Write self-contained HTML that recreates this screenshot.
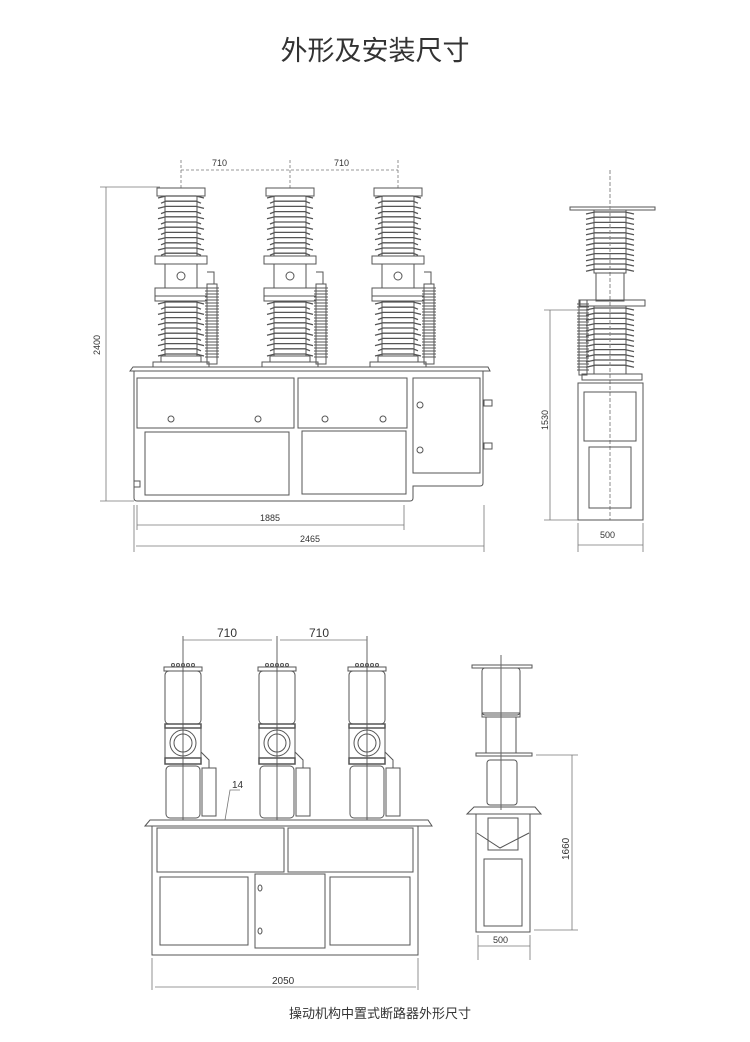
<!DOCTYPE html>
<html><head><meta charset="utf-8"><style>
html,body{margin:0;padding:0;background:#fff;}
svg{display:block}
text{font-family:"Liberation Sans","Noto Sans CJK SC",sans-serif;fill:#333}
</style></head><body>
<svg id="s" width="750" height="1042" viewBox="0 0 750 1042" xmlns="http://www.w3.org/2000/svg" stroke="#555" fill="none" stroke-width="1">
<text x="375" y="60" font-size="27" text-anchor="middle" stroke="none" fill="#222">外形及安装尺寸</text>
<text x="380" y="1018" font-size="13" text-anchor="middle" stroke="none" fill="#333">操动机构中置式断路器外形尺寸</text>

<!-- top cabinet -->
<path d="M130 371 L133 367 L488 367 L490 371 Z"/>
<path d="M134 371 V498 Q134 501 137 501 H410 Q413 501 413 498 V486 H480 Q483 486 483 483 V371"/>
<rect x="137" y="378" width="157" height="50"/>
<rect x="298" y="378" width="109" height="50"/>
<rect x="145" y="432" width="144" height="63"/>
<rect x="302" y="431" width="104" height="63"/>
<rect x="413" y="378" width="67" height="95"/>
<circle cx="171" cy="419" r="3"/><circle cx="258" cy="419" r="3"/>
<circle cx="325" cy="419" r="3"/><circle cx="383" cy="419" r="3"/>
<circle cx="420" cy="405" r="3"/><circle cx="420" cy="450" r="3"/>
<rect x="134" y="481" width="6" height="6"/>
<rect x="484" y="400" width="8" height="6"/><rect x="484" y="443" width="8" height="6"/>

<!-- top dims -->
<g stroke="#777" stroke-width="0.8">
<path d="M100 187 H160 M100 501 H134 M106 187 V501"/>
<path d="M137 505 V530 M404 505 V530 M137 525 H404"/>
<path d="M134 505 V552 M484 505 V552 M136 546 H484"/>
<path d="M181 160 V190 M290 160 V190 M398 160 V190 M181 170 H398" stroke-dasharray="3 2"/>
</g>
<g stroke="none" fill="#444" font-size="9">
<text x="212" y="166">710</text><text x="334" y="166">710</text>
<text x="260" y="521">1885</text><text x="300" y="542">2465</text>
<text transform="translate(100 355) rotate(-90)">2400</text>
</g>

<g id="poles"></g>

<!-- top right side view -->
<g id="side1">
<path d="M570 207 H655 V210 H570 Z"/>
<path d="M610 170 V520" stroke-dasharray="4 2" stroke="#888"/>
<rect x="596" y="273" width="28" height="28"/>
<path d="M580 300 H645 V306 H580 Z"/>
<rect x="582" y="374" width="60" height="6"/>
<rect x="578" y="383" width="65" height="137"/>
<rect x="584" y="392" width="52" height="49"/>
<rect x="589" y="447" width="42" height="61"/>
<g stroke="#777" stroke-width="0.8">
<path d="M544 310 H580 M544 520 H578 M550 310 V520"/>
<path d="M578 523 V552 M643 523 V552 M578 545 H643"/>
</g>
<text x="600" y="538" font-size="9" stroke="none">500</text>
<text transform="translate(548 430) rotate(-90)" font-size="9" stroke="none">1530</text>
</g>

<!-- bottom cabinet -->
<path d="M145 826 L150 820 H428 L432 826 Z"/>
<rect x="152" y="826" width="266" height="129"/>
<rect x="157" y="828" width="127" height="44"/>
<rect x="288" y="828" width="125" height="44"/>
<rect x="160" y="877" width="88" height="68"/>
<rect x="255" y="874" width="70" height="74"/>
<rect x="330" y="877" width="80" height="68"/>
<ellipse cx="260" cy="888" rx="2" ry="3"/><ellipse cx="260" cy="931" rx="2" ry="3"/>
<g stroke="#777" stroke-width="0.8">
<path d="M152 958 V990 M418 958 V990 M155 987 H416"/>
<path d="M183 640 H272 M280 640 H367"/>
<path d="M225 820 L230 790 H240"/>
</g>
<text x="232" y="788" font-size="10" stroke="none">14</text>
<text x="217" y="637" font-size="12" stroke="none">710</text>
<text x="309" y="637" font-size="12" stroke="none">710</text>
<text x="272" y="984" font-size="10" stroke="none">2050</text>

<!-- bottom side view -->
<path d="M472 665 H532 V668 H472 Z"/>
<rect x="482" y="668" width="38" height="47" rx="3"/>
<rect x="482" y="713" width="38" height="4"/>
<rect x="486" y="717" width="30" height="36"/>
<path d="M476 753 H532 V756 H476 Z"/>
<rect x="487" y="760" width="30" height="45" rx="3"/>
<path d="M467 814 L474 807 H535 L541 814 Z"/>
<rect x="476" y="814" width="54" height="118"/>
<path d="M477 833 L500 848 L529 833 M488 818 H518 V850 H488 Z"/>
<rect x="484" y="859" width="38" height="67"/>
<path d="M501 655 V810" stroke="#666"/>
<g stroke="#777" stroke-width="0.8">
<path d="M536 755 H578 M534 930 H578 M572 755 V930"/>
<path d="M478 935 V960 M530 935 V960 M478 946 H530"/>
</g>
<text x="493" y="943" font-size="9" stroke="none">500</text>
<text transform="translate(569 860) rotate(-90)" font-size="10" stroke="none">1660</text>
</svg>
<script>
var ns="http://www.w3.org/2000/svg",g=document.getElementById('poles');
function el(t,a){var e=document.createElementNS(ns,t);for(var k in a)e.setAttribute(k,a[k]);g.appendChild(e);return e;}
[181,290,398].forEach(function(c){
 el('rect',{x:c-24,y:188,width:48,height:8});
 for(var y=198;y<256;y+=5.2){var w=(Math.round((y-198)/5.2)%2)?20:23;el('path',{d:'M'+(c-w)+' '+y+' L'+(c-15)+' '+(y-2)+' H'+(c+15)+' L'+(c+w)+' '+y,'stroke-width':1.3});}
 el('rect',{x:c-16,y:196,width:32,height:60});
 el('rect',{x:c-26,y:256,width:52,height:8});
 el('rect',{x:c-16,y:264,width:32,height:24});
 el('circle',{cx:c,cy:276,r:4});
 el('rect',{x:c-26,y:288,width:52,height:8});
 el('rect',{x:c-26,y:296,width:52,height:5});
 for(var y=304;y<356;y+=5.2){var w=(Math.round((y-304)/5.2)%2)?20:23;el('path',{d:'M'+(c-w)+' '+y+' L'+(c-15)+' '+(y-2)+' H'+(c+15)+' L'+(c+w)+' '+y,'stroke-width':1.3});}
 el('rect',{x:c-16,y:302,width:32,height:54});
 el('path',{d:'M'+(c-20)+' 356 H'+(c+20)+' V362 H'+(c-20)+'Z M'+(c-28)+' 362 H'+(c+28)+' V367 H'+(c-28)+'Z'});
 var a=c+31;
 el('rect',{x:a-5,y:284,width:10,height:80});
 for(var y=288;y<360;y+=3)el('path',{d:'M'+(a-7)+' '+y+' H'+(a+7)});
 el('path',{d:'M'+(c+26)+' 272 H'+(c+33)+' V284'});
});
// side1 sheds
var c=610;
for(var y=214;y<272;y+=5.2)el('path',{d:'M'+(c-24)+' '+y+' L'+(c-15)+' '+(y-2)+' H'+(c+15)+' L'+(c+24)+' '+y,'stroke-width':1.3});
el('rect',{x:c-16,y:210,width:32,height:63});
for(var y=310;y<372;y+=5.2)el('path',{d:'M'+(c-24)+' '+y+' L'+(c-15)+' '+(y-2)+' H'+(c+15)+' L'+(c+24)+' '+y,'stroke-width':1.3});
el('rect',{x:c-16,y:306,width:32,height:68});
el('rect',{x:579,y:300,width:8,height:75});
for(var y=304;y<372;y+=3)el('path',{d:'M577 '+y+' H589'});
// bottom poles
[183,277,367].forEach(function(c){
 el('path',{d:'M'+c+' 636 V820','stroke':'#666'});
 for(var i=-2;i<=2;i++)el('circle',{cx:c+i*5,cy:665,r:1.5});
 el('rect',{x:c-19,y:667,width:38,height:4});
 el('rect',{x:c-18,y:671,width:36,height:53,rx:4});
 el('rect',{x:c-18,y:724,width:36,height:4,'stroke-width':1.5});
 el('rect',{x:c-18,y:728,width:36,height:30});
 el('circle',{cx:c,cy:743,r:13});el('circle',{cx:c,cy:743,r:9});
 el('rect',{x:c-18,y:758,width:36,height:6,'stroke-width':1.5});
 el('rect',{x:c-17,y:766,width:34,height:52,rx:4});
 el('rect',{x:c+19,y:768,width:14,height:48});
 el('path',{d:'M'+(c+18)+' 752 L'+(c+26)+' 760 V768'});
});
</script>
</body></html>
